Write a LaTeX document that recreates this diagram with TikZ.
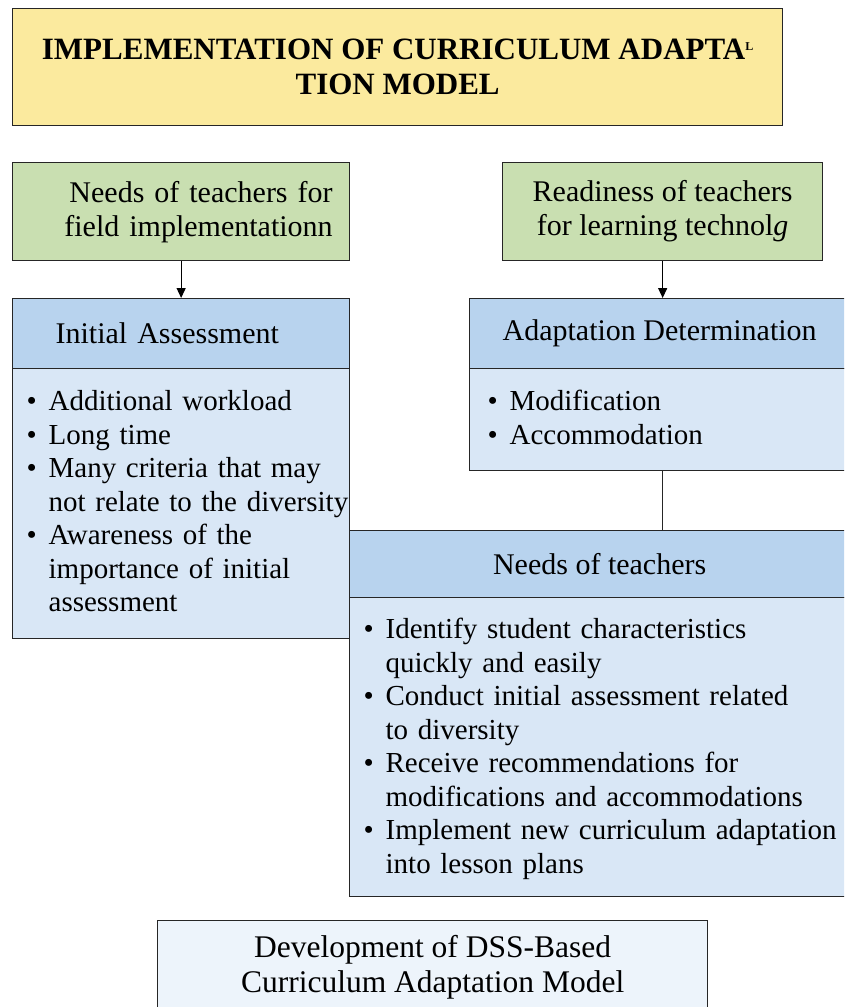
\documentclass[tikz,border=0pt]{standalone}
\usepackage{fontspec}
\setmainfont{Liberation Serif}
\usetikzlibrary{arrows.meta}
\definecolor{titleyellow}{HTML}{FBEA9E}
\definecolor{boxgreen}{HTML}{C9DFB1}
\definecolor{headblue}{HTML}{B8D3EE}
\definecolor{bodyblue}{HTML}{D9E7F6}
\definecolor{devblue}{HTML}{EDF4FB}
\definecolor{edgegray}{HTML}{262626}
\newcommand{\bpt}[1]{\noindent\makebox[22pt][l]{\textbullet}\mbox{#1}\par}
\newcommand{\bcont}[1]{\noindent\hspace*{22pt}\mbox{#1}\par}
\tikzset{
	box/.style={draw=edgegray,line width=1.3pt,anchor=north west,inner sep=0pt},
	titlebox/.style={box,fill=titleyellow,minimum width=770pt,minimum height=117pt,align=center,font=\fontsize{31}{35}\selectfont\bfseries},
	greenbox/.style={box,fill=boxgreen,minimum height=98pt,font=\fontsize{30}{34}\selectfont},
	headbox/.style={box,fill=headblue,minimum height=70pt,font=\fontsize{30}{34}\selectfont},
	bodybox/.style={box,fill=bodyblue,align=left,inner xsep=14pt,font=\fontsize{29}{33.5}\selectfont},
	devbox/.style={box,fill=devblue,minimum width=550pt,minimum height=94pt,align=center,font=\fontsize{31.5}{35}\selectfont},
	arrow/.style={line width=1.3pt,draw=black,-{Triangle[length=10pt,width=9pt]}}
}
\begin{document}
\begin{tikzpicture}[x=1pt,y=1pt]
	\useasboundingbox (0,0) rectangle (844,-1007);
	\clip (0,0) rectangle (844,-1007);

	\node [titlebox] (title) at (12,-8) {IMPLEMENTATION OF CURRICULUM ADAPTA\raisebox{9pt}{\fontsize{12}{12}\selectfont L}\\TION MODEL};

	\node [greenbox,text width=303pt,inner xsep=17pt,align=right] (gleft) at (12,-162) {Needs of teachers for\\field implementationn};
	\node [greenbox,minimum width=320pt,align=center] (gright) at (502,-162) {Readiness of teachers\\for learning technol\textit{g}};

	\node [headbox,text width=251pt,inner xsep=43pt,align=left] (iahead) at (12,-298) {Initial Assessment};
	\node [bodybox,text width=309pt,text height=42pt,text depth=228pt] (iabody) at (12,-368) {%
		\bpt{Additional workload}
		\bpt{Long time}
		\bpt{Many criteria that may}
		\bcont{not relate to the diversity}
		\bpt{Awareness of the}
		\bcont{importance of initial}
		\bcont{assessment}};

	\node [headbox,minimum width=380pt,align=center] (adhead) at (469,-298) {Adaptation Determination};
	\node [bodybox,inner xsep=18pt,text width=344pt,text height=42pt,text depth=60pt] (adbody) at (469,-368) {%
		\bpt{Modification}
		\bpt{Accommodation}};

	\node [headbox,minimum width=500pt,minimum height=67pt,align=center] (needhead) at (349,-530) {Needs of teachers};
	\node [bodybox,text width=472pt,text height=41pt,text depth=258pt] (needbody) at (349,-597) {%
		\bpt{Identify student characteristics}
		\bcont{quickly and easily}
		\bpt{Conduct initial assessment related}
		\bcont{to diversity}
		\bpt{Receive recommendations for}
		\bcont{modifications and accommodations}
		\bpt{Implement new curriculum adaptation}
		\bcont{into lesson plans}};

	\node [devbox] (dev) at (157,-920) {Development of DSS-Based\\Curriculum Adaptation Model};

	\draw [arrow] (gleft.south) -- (iahead.north);
	\draw [arrow] (gright.south) -- (gright.south |- adhead.north);
	\draw [line width=1.3pt,draw=edgegray] (gright.south |- adbody.south) -- (gright.south |- needhead.north);
\end{tikzpicture}
\end{document}
